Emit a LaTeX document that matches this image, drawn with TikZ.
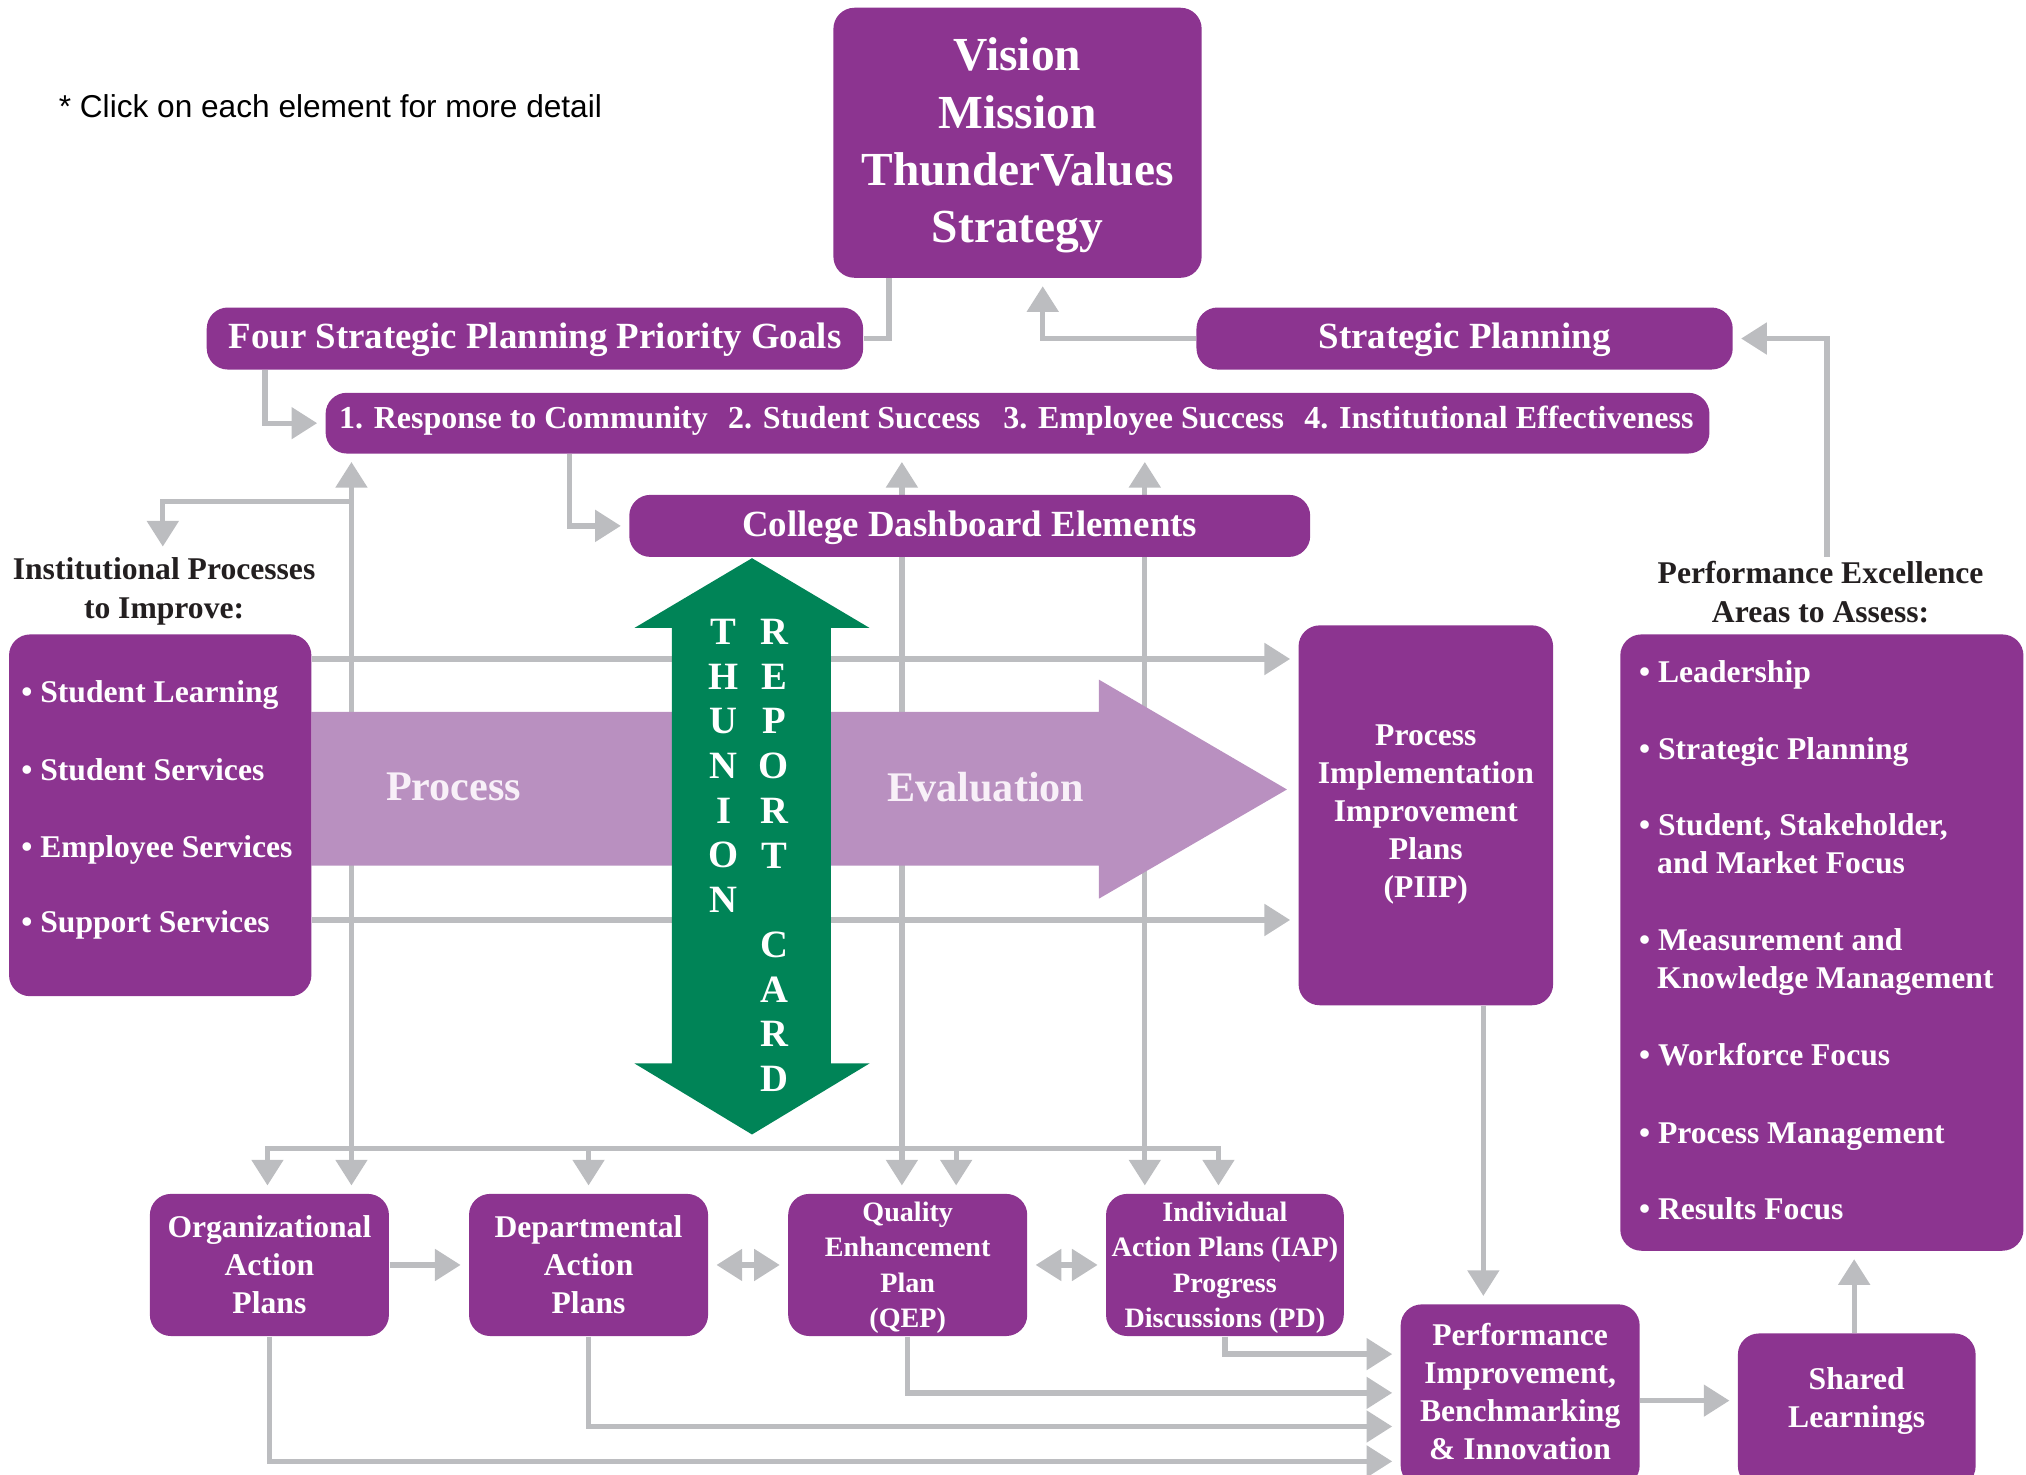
\documentclass[tikz,border=0pt]{standalone}
\usepackage{fontspec}
\setmainfont{Liberation Serif}
\newfontfamily\sansf{Liberation Sans}
\usetikzlibrary{arrows.meta}
\pgfdeclarelayer{bg}
\pgfdeclarelayer{mid}
\pgfsetlayers{bg,mid,main}
\newdimen\dpx \dpx=0.0129209cm
\definecolor{purp}{HTML}{8C3490}
\definecolor{band}{HTML}{B990C0}
\definecolor{gline}{HTML}{BCBDC0}
\definecolor{tgreen}{HTML}{008457}
\definecolor{dtext}{HTML}{231F20}
\definecolor{pale}{HTML}{F8F0F8}
\begin{document}
\begin{tikzpicture}[x=0.0129209cm,y=-0.0129209cm,
 box/.style={fill=purp, rounded corners=6pt, text=white, align=center, inner sep=0pt, text depth=0pt, font=\bfseries\fontsize{9}{10.8}\selectfont},
 small/.style={font=\bfseries\fontsize{8}{10.1}\selectfont},
 bar/.style={text depth=1.4pt, font=\bfseries\fontsize{10.5}{12}\selectfont},
 boxtext/.style={text=white, align=center, inner sep=0pt, text depth=0pt, font=\bfseries\fontsize{9}{10.8}\selectfont},
 conn/.style={draw=gline, line width=1.5pt},
 arr/.style={conn, -{Triangle[width=8.8pt,length=7.3pt]}, shorten >=2.2pt},
 darr/.style={conn, {Triangle[width=8.8pt,length=7.3pt]}-{Triangle[width=8.8pt,length=7.3pt]}, shorten >=2.2pt, shorten <=2.2pt},
 item/.style={anchor=base west, text=white, inner sep=0pt, font=\bfseries\fontsize{9}{10.8}\selectfont},
 gitem/.style={anchor=base west, text=white, inner sep=0pt, font=\bfseries\fontsize{9.1}{11}\selectfont},
 lbl/.style={text=dtext, align=center, inner sep=0pt, text depth=0pt, font=\bfseries\fontsize{9}{11}\selectfont},
 letter/.style={text=white, inner sep=0pt, font=\bfseries\fontsize{11}{11}\selectfont},
 bandtext/.style={text=pale, inner sep=0pt, text depth=0pt, font=\bfseries\fontsize{12}{14}\selectfont}
]
\useasboundingbox (0,0) rectangle (1568,1141);
\clip (0,0) rectangle (1568,1141);

% ---------- boxes ----------
\node[box, minimum width=285\dpx, minimum height=209\dpx, text depth=1.4pt, font=\bfseries\fontsize{13.5}{16.3}\selectfont] (vision) at (787.5,110.5) {Vision\\Mission\\ThunderValues\\Strategy};
\node[box, bar, minimum width=508\dpx, minimum height=48\dpx] (four) at (414,262) {Four Strategic Planning Priority Goals};
\node[box, bar, minimum width=415\dpx, minimum height=48\dpx] (strat) at (1133.5,262) {Strategic Planning};
\node[box, minimum width=1071\dpx, minimum height=47\dpx] (goals) at (787.5,327.5) {};
\node[gitem] (g1) at (262,332) {1. Response to Community};
\node[gitem] (g2) at (563,332) {2. Student Success};
\node[gitem] (g3) at (776,332) {3. Employee Success};
\node[gitem] (g4) at (1009,332) {4. Institutional Effectiveness};
\node[box, bar, minimum width=527\dpx, minimum height=48\dpx] (dash) at (750.5,407) {College Dashboard Elements};

\node[box, minimum width=234\dpx, minimum height=280\dpx] (inst) at (124,631) {};
\node[item] (i1) at (16,544) {• Student Learning};
\node[item] (i2) at (16,604) {• Student Services};
\node[item] (i3) at (16,664) {• Employee Services};
\node[item] (i4) at (16,722) {• Support Services};

\node[box, minimum width=197\dpx, minimum height=294\dpx, text depth=2.2pt] (piip) at (1103.5,631) {Process\\Implementation\\Improvement\\Plans\\(PIIP)};

\node[box, minimum width=312\dpx, minimum height=477\dpx] (areas) at (1410,729.5) {};
\node[item] (a1) at (1268,528) {• Leadership};
\node[item] (a2) at (1268,588) {• Strategic Planning};
\node[item] (a3) at (1268,647) {• Student, Stakeholder,};
\node[item] (a3b) at (1282,676) {and Market Focus};
\node[item] (a4) at (1268,736) {• Measurement and};
\node[item] (a4b) at (1282,765) {Knowledge Management};
\node[item] (a5) at (1268,825) {• Workforce Focus};
\node[item] (a6) at (1268,885) {• Process Management};
\node[item] (a7) at (1268,944) {• Results Focus};

\node[box, minimum width=185\dpx, minimum height=110\dpx] (org) at (208.5,979) {Organizational\\Action\\Plans};
\node[box, minimum width=185\dpx, minimum height=110\dpx] (dept) at (455.5,979) {Departmental\\Action\\Plans};
\node[box, small, minimum width=185\dpx, minimum height=110\dpx] (qep) at (702.5,979) {Quality\\Enhancement\\Plan\\(QEP)};
\node[box, small, minimum width=184\dpx, minimum height=110\dpx] (iap) at (948,979) {Individual\\Action Plans (IAP)\\Progress\\Discussions (PD)};
\node[box, minimum width=185\dpx, minimum height=141\dpx] (perf) at (1176.5,1080) {};
\node[boxtext] (perftext) at (1176.5,1077) {Performance\\Improvement,\\Benchmarking\\\& Innovation};
\node[box, minimum width=184\dpx, minimum height=119\dpx] (shared) at (1437,1091.5) {};
\node[boxtext] (sharedtext) at (1437,1081.5) {Shared\\Learnings};

% ---------- labels ----------
\node[anchor=base west, inner sep=0pt, font=\sansf\fontsize{9}{11}\selectfont] (click) at (45,91) {* Click on each element for more detail};
\node[lbl] (instlabel) at (127,455) {Institutional Processes\\to Improve:};
\node[lbl] (perflabel) at (1409,458) {Performance Excellence\\Areas to Assess:};

% ---------- helper coordinates ----------
\coordinate (c688) at (688,0);
\coordinate (c807) at (807,0);
\coordinate (c205) at (205,0);
\coordinate (c441) at (441,0);
\coordinate (c698) at (698,0);
\coordinate (c886) at (886,0);
\coordinate (c272) at (272,0);
\coordinate (c1148) at (1148,0);
\coordinate (c1435) at (1435,0);
\coordinate (pe) at (1414,431);
\coordinate (jB) at (272,388);
\coordinate (il) at (126,429);
\coordinate (jL) at (207,889);
\coordinate (jR) at (943,889);
\coordinate (jQ) at (740,889);
\coordinate (y510) at (0,510);
\coordinate (y712) at (0,712);
\coordinate (y1048) at (0,1048);
\coordinate (y1078) at (0,1078);
\coordinate (y1104) at (0,1104);
\coordinate (y1131) at (0,1131);
\coordinate (y1084) at (0,1084);

% ---------- connectors ----------
\begin{pgfonlayer}{bg}
\draw[conn] (vision.south -| c688) |- (four.east);
\draw[arr] (strat.west) -| (vision.south -| c807);
\draw[arr] (pe) |- (strat.east);
\draw[arr] (four.south -| c205) |- (goals.west);
\draw[arr] (goals.south -| c441) |- (dash.west);
\draw[darr] (qep.north -| c698) -- (goals.south -| c698);
\draw[darr] (iap.north -| c886) -- (goals.south -| c886);
\draw[darr] (org.north -| c272) -- (goals.south -| c272);
\draw[arr] (jB) -| (il);
\draw[darr] (iap.north -| jR) -- (jR) -- (jL) -- (org.north -| jL);
\draw[arr] (dept.north |- jL) -- (dept.north);
\draw[arr] (jQ) -- (qep.north -| jQ);
\draw[arr] (inst.east |- y510) -- (piip.west |- y510);
\draw[arr] (inst.east |- y712) -- (piip.west |- y712);
\draw[arr] (piip.south -| c1148) -- (perf.north -| c1148);
\draw[arr] (org.east) -- (dept.west);
\draw[darr] (dept.east) -- (qep.west);
\draw[darr] (qep.east) -- (iap.west);
\draw[arr] (org.south) |- (perf.west |- y1131);
\draw[arr] (dept.south) |- (perf.west |- y1104);
\draw[arr] (qep.south) |- (perf.west |- y1078);
\draw[arr] (iap.south) |- (perf.west |- y1048);
\draw[arr] (perf.east |- y1084) -- (shared.west |- y1084);
\draw[arr] (shared.north -| c1435) -- (areas.south -| c1435);
\end{pgfonlayer}

% ---------- big arrows ----------
\begin{pgfonlayer}{mid}
\fill[band] (241,551) -- (850.5,551) -- (850.5,526) -- (996,611) -- (850.5,695.5) -- (850.5,670) -- (241,670) -- cycle;
\fill[tgreen] (582,432) -- (673,486) -- (643,486) -- (643,823) -- (673,823) -- (582,878) -- (491,823) -- (520,823) -- (520,486) -- (491,486) -- cycle;
\end{pgfonlayer}
\node[bandtext] (process) at (351,609) {Process};
\node[bandtext] (evaluation) at (763,609) {Evaluation};

\foreach \ch [count=\i] in {T,H,U,N,I,O,N}
  \node[letter] (lt\i) at (560,{489+34.6*(\i-1)}) {\ch};
\foreach \ch [count=\i] in {R,E,P,O,R,T}
  \node[letter] (rt\i) at (599,{489+34.6*(\i-1)}) {\ch};
\foreach \ch [count=\i from 8] in {C,A,R,D}
  \node[letter] (rc\i) at (599,{489+34.6*(\i-1)}) {\ch};
\end{tikzpicture}
\end{document}
